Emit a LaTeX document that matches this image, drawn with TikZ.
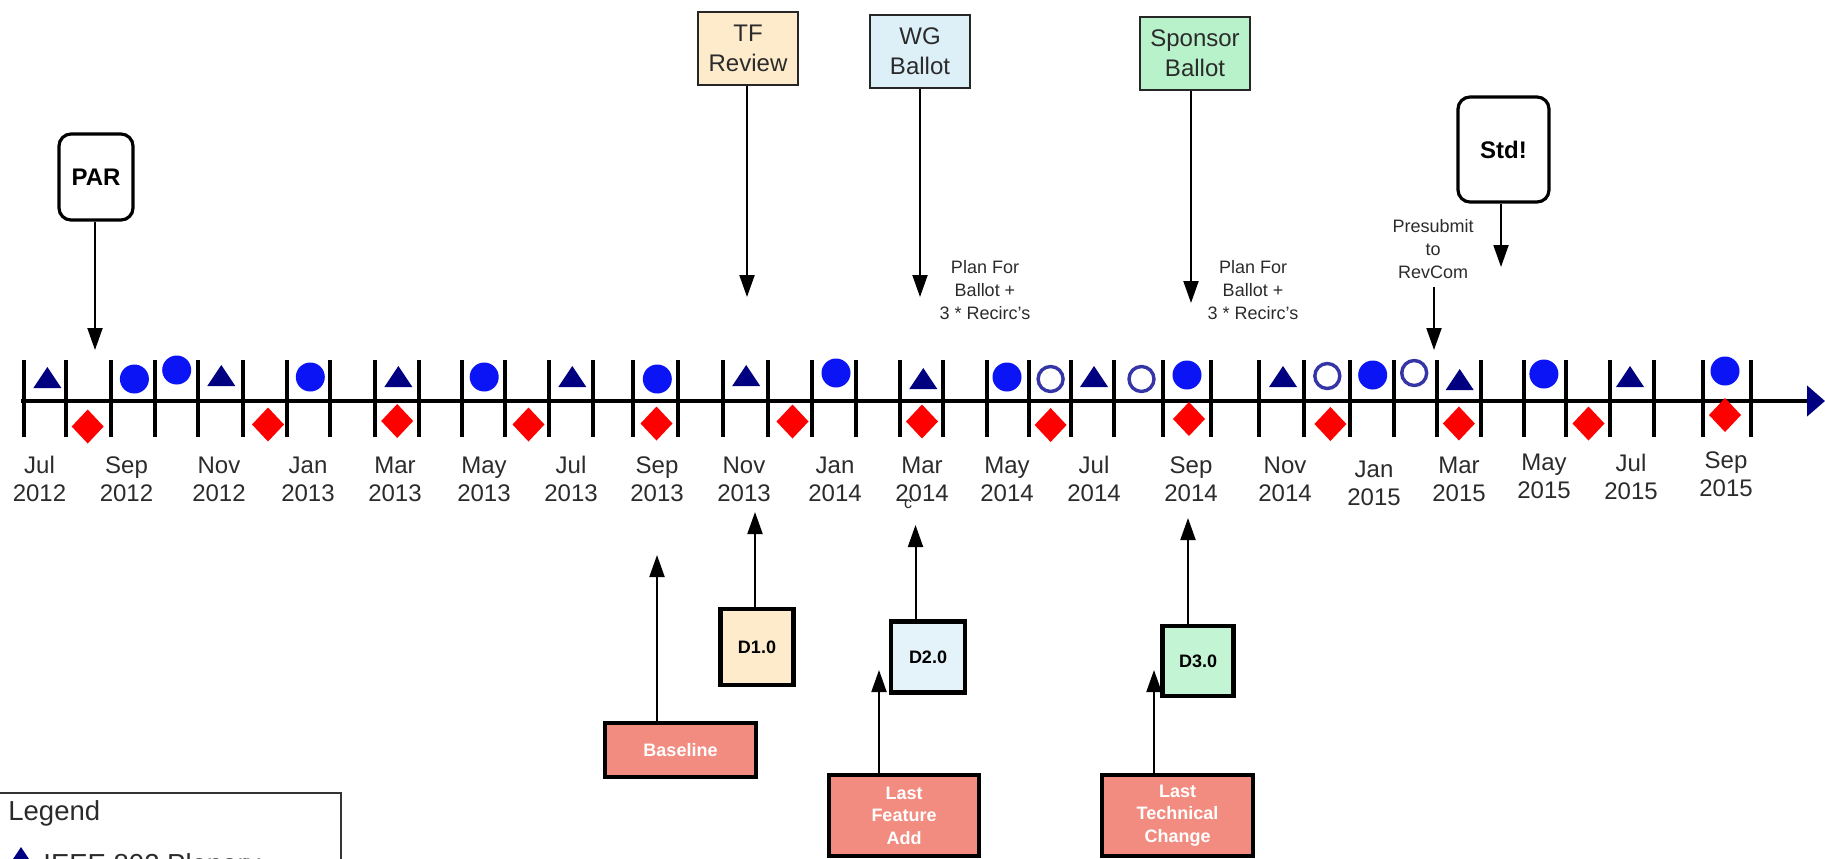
\documentclass[tikz,border=0pt]{standalone}
\usepackage{fontspec}
\setmainfont{Liberation Sans}
\usetikzlibrary{arrows.meta}

\definecolor{peach}{HTML}{FDEBCB}
\definecolor{iceblue}{HTML}{DDF0F8}
\definecolor{mint}{HTML}{B8F2CB}
\definecolor{salmon}{HTML}{F28C80}
\definecolor{plenary}{HTML}{000080}
\definecolor{interim}{HTML}{0A14F5}
\definecolor{ringblue}{HTML}{3535A8}
\definecolor{ink}{HTML}{2B2B2B}

\begin{document}
\begin{tikzpicture}[x=0.5pt,y=-0.5pt,
  arr/.style={line width=1pt,-{Stealth[inset=0pt,length=11pt,width=7.5pt]}},
  topbox/.style={draw=black!85,line width=1.2pt,inner sep=0pt,align=center,text=ink,
    minimum height=36.5pt,font=\fontsize{12}{15}\selectfont},
  roundbox/.style={draw,line width=1.6pt,rounded corners=6pt,inner sep=0pt,
    font=\bfseries\fontsize{12}{14}\selectfont},
  draftbox/.style={draw,line width=2.2pt,inner sep=0pt,font=\bfseries\fontsize{9}{11}\selectfont},
  keybox/.style={draw,line width=2.2pt,fill=salmon,text=white,inner sep=0pt,align=center,
    font=\bfseries\fontsize{9}{11.25}\selectfont},
  note/.style={align=center,inner sep=0pt,text=ink,font=\fontsize{9}{11.5}\selectfont},
  month/.style={align=center,inner sep=0pt,text=ink,font=\fontsize{12}{14}\selectfont}]
  \useasboundingbox (0,0) rectangle (1825,858);

  % time axis and month ticks
  \draw[line width=2.2pt,-{Triangle[length=9pt,width=15pt,color=plenary]}] (21,401) -- (1825,401);
  \foreach \t in {23.5,66.3,111,154.5,197.8,242.6,287,330.4,374.8,418.7,462,505.2,549,593,
    633.3,678.2,722.6,768,812.3,856.4,899.5,943,987.4,1028.5,1071.2,1114.4,1163,1211,
    1259.3,1303.6,1350,1394,1437,1481,1524.4,1565.7,1609.5,1654,1702.5,1750.5}
    \draw[line width=2pt] (\t,360) -- (\t,437);

  % meetings
  \foreach \x/\y in {47.4/388,221.3/386,398.4/387,572.3/387,746.2/386,923.3/389,
    1094/387,1283/387,1459.7/390,1630/387}
    \fill[plenary] (\x-14,\y) -- (\x+14,\y) -- (\x,\y-21) -- cycle;
  \foreach \x/\y in {134.4/379,176.7/370,310.3/377,484.2/377,657.3/379,836/373,
    1007/377,1187/375,1372.7/375,1543.9/374,1725/371}
    \fill[interim] (\x,\y) circle (14.5);
  \foreach \x/\y in {1050.6/379,1141.5/379,1327.3/376,1414.2/373}
    \draw[ringblue,line width=1.7pt] (\x,\y) circle (12.5);
  \foreach \x/\y in {87.7/426.5,268/424.5,397.2/421,528.5/424.5,656.5/423.5,792.5/421.5,
    922/421.5,1050.6/425,1189/419,1330.4/424,1458.9/423.5,1588.5/423.5,1725/415}
    \fill[red] (\x,\y-17) -- (\x+16,\y) -- (\x,\y+17) -- (\x-16,\y) -- cycle;

  % month labels
  \foreach \x/\y/\mo/\yr [count=\i] in {39.5/479/Jul/2012,126.5/479/Sep/2012,219/479/Nov/2012,
    308/479/Jan/2013,395/479/Mar/2013,484/479/May/2013,571/479/Jul/2013,657/479/Sep/2013,
    744/479/Nov/2013,835/479/Jan/2014,922/479/Mar/2014,1007/479/May/2014,1094/479/Jul/2014,
    1191/479/Sep/2014,1285/479/Nov/2014,1374/483/Jan/2015,1459/479/Mar/2015,
    1544/476/May/2015,1631/477/Jul/2015,1726/474/Sep/2015}
    \node[month] (lab\i) at (\x,\y) {\mo\\\yr};
  \node[text=ink,inner sep=0pt,font=\fontsize{8}{9}\selectfont] (stray) at (908,504) {c};

  % milestones above the axis
  \node[roundbox,minimum width=37pt,minimum height=43pt] (par) at (96,177) {PAR};
  \coordinate (parT) at (95,350);
  \draw[arr] (par.south -| parT) -- (parT);

  \node[topbox,fill=peach,minimum width=50pt] (tf) at (748,48.3) {TF\\Review};
  \coordinate (tfT) at (747,297);
  \draw[arr] (tf.south -| tfT) -- (tfT);

  \node[topbox,fill=iceblue,minimum width=50pt] (wg) at (920,51.5) {WG\\Ballot};
  \coordinate (wgT) at (920,297);
  \draw[arr] (wg.south -| wgT) -- (wgT);
  \node[note] (wgplan) at (985,290) {Plan For\\Ballot +\\3 * Recirc's};

  \node[topbox,fill=mint,minimum width=55pt] (sb) at (1195,53.3) {Sponsor\\Ballot};
  \coordinate (sbT) at (1191,303);
  \draw[arr] (sb.south -| sbT) -- (sbT);
  \node[note] (sbplan) at (1253,290) {Plan For\\Ballot +\\3 * Recirc's};

  \node[roundbox,minimum width=45.5pt,minimum height=52.5pt] (std) at (1503.5,149.5) {Std!};
  \coordinate (stdT) at (1501,267);
  \draw[arr] (std.south -| stdT) -- (stdT);

  \node[note] (presub) at (1433,249) {Presubmit\\to\\RevCom};
  \coordinate (presubT) at (1434,350);
  \draw[arr] (presub.south -| presubT) ++(0,8) -- (presubT);

  % drafts and cut-offs below the axis
  \node[draftbox,fill=peach,minimum width=36.5pt,minimum height=38pt] (d1) at (757,647) {D1.0};
  \coordinate (d1T) at (755,512);
  \draw[arr] (d1.north -| d1T) -- (d1T);

  \node[draftbox,fill=iceblue!80,minimum width=37pt,minimum height=35.5pt] (d2) at (928,657) {D2.0};
  \coordinate (d2T) at (915.5,525);
  \draw[arr] (d2.north -| d2T) -- (d2T);

  \node[draftbox,fill=mint!85,minimum width=35.5pt,minimum height=35pt] (d3) at (1198,661) {D3.0};
  \coordinate (d3T) at (1188,518);
  \draw[arr] (d3.north -| d3T) -- (d3T);

  \node[keybox,minimum width=75.5pt,minimum height=27pt] (base) at (680.5,750) {Baseline};
  \coordinate (baseT) at (657,555);
  \draw[arr] (base.north -| baseT) -- (baseT);

  \node[keybox,minimum width=75pt,minimum height=40.5pt] (lfa) at (904,815.5) {Last\\Feature\\Add};
  \coordinate (lfaT) at (879,670);
  \draw[arr] (lfa.north -| lfaT) -- (lfaT);

  \node[keybox,minimum width=75.5pt,minimum height=40.5pt] (ltc) at (1177.5,815.5) {Last\\Technical\\Change};
  \coordinate (ltcT) at (1154,670);
  \draw[arr] (ltc.north -| ltcT) -- (ltcT);

  % legend
  \draw[line width=0.8pt,black!80] (-2,793) rectangle (341,930);
  \node[anchor=west,inner sep=0pt,text=ink,font=\fontsize{13.75}{16}\selectfont] (legend) at (8,813) {Legend};
  \fill[plenary] (7,868) -- (35,868) -- (21,847) -- cycle;
  \node[anchor=base west,inner sep=0pt,text=ink,font=\fontsize{13.75}{16}\selectfont] (plen) at (43,873) {IEEE 802 Plenary};
\end{tikzpicture}
\end{document}
